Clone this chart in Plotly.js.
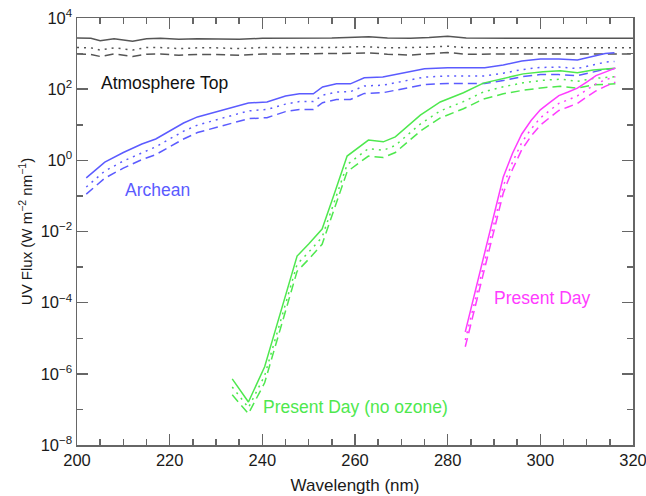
<!DOCTYPE html>
<html>
<head>
<meta charset="utf-8">
<script src="https://cdn.plot.ly/plotly-3.0.1.min.js"></script>
<style>html,body{margin:0;padding:0;background:#fff;}#chart{width:646px;height:496px;}</style>
</head>
<body>
<div id="chart"></div>
<script>
// Atmosphere top (W m^-2 nm^-1)
const wlTop = [200,203,205,208,212,215,218,222,226,230,235,240,245,250,255,260,263,267,272,276,280,284,290,300,310,320];
const topSolid  = [2750,2690,2290,2630,2240,2630,2690,2510,2630,2570,2510,2690,2690,2630,2750,2880,2950,2750,2690,2820,3090,2750,2690,2690,2690,2690];
const topDotted = [1480,1450,1260,1450,1260,1480,1480,1380,1450,1450,1380,1480,1480,1450,1480,1550,1550,1450,1450,1510,1620,1450,1450,1450,1450,1450];
const topDashed = [977,950,830,977,830,960,977,900,950,950,900,977,977,977,1000,1020,1047,960,910,977,1070,960,977,977,977,977];

// Archean
const wlArch = [202,206,210,214,217,220,223,226,230,234,237,241,245,248,251,253,256,259,262,266,270,275,280,288,292,296,300,304,308,311,314,316];
const archSolid  = [0.32,0.89,1.66,2.88,3.98,6.6,11.2,16.6,22.9,31.6,40.7,43.7,64.6,74.1,74.1,115,141,141,209,219,282,372,398,398,479,617,708,708,661,794,1000,1047];
const archDotted = [0.178,0.5,0.955,1.66,2.4,3.98,6.6,9.77,13.8,19.1,24.5,26.9,38,44.7,44.7,67.6,83.2,85.1,123,129,166,219,234,234,282,355,407,417,380,457,575,603];
const archDashed = [0.112,0.316,0.603,1.05,1.45,2.4,3.98,6.03,8.32,11.5,14.8,15.8,23.4,26.9,26.9,41.7,51.3,51.3,75.9,79.4,102,135,145,145,174,224,257,257,240,288,363,380];

// Present Day (no ozone)
const wlNoOz = [233.5,237,240.5,242.8,245.2,247.5,250,252.9,255.5,258.3,262.9,266.1,268.7,271.5,274.1,278.4,283.4,287.7,292,296.3,300.6,304.3,308,311.4,316.2];
const noOzSolid  = [7.24e-7,1.62e-7,1.58e-6,1.74e-5,1.91e-4,2.04e-3,4.47e-3,1.17e-2,0.112,1.32,3.72,3.31,4.57,9.33,18.6,43.7,79.4,148,204,269,309,331,288,347,389];
const noOzDotted = [4.27e-7,1.12e-7,8.91e-7,1.0e-5,1.12e-4,1.2e-3,2.63e-3,6.92e-3,6.61e-2,0.759,2.14,1.91,2.63,5.25,10.5,24.5,44.7,83.2,117,151,178,191,166,200,224];
const noOzDashed = [2.57e-7,7.59e-8,5.62e-7,6.31e-6,7.08e-5,7.59e-4,1.66e-3,4.37e-3,4.17e-2,0.479,1.32,1.2,1.66,3.31,6.61,15.5,28.2,52.5,74.1,93.3,110,120,107,132,141];

// Present Day
const wlPD = [283.8,286,288,290,292,294,296,298,300,302,304,306,308,310,312,314,316.2];
const pdSolid  = [1.51e-5,2.24e-4,2.63e-3,3.16e-2,0.339,1.58,5.5,13.2,26.3,41.7,66.1,83.2,107,158,240,302,389];
const pdDotted = [8.91e-6,1.26e-4,1.48e-3,1.78e-2,0.191,0.891,3.16,7.59,15.5,25.1,39.8,50.1,64.6,95.5,141,182,224];
const pdDashed = [5.75e-6,7.94e-5,9.33e-4,1.12e-2,0.12,0.562,2.0,4.79,9.77,15.8,25.1,31.6,39.8,60.3,89.1,120,158];

const yTickVals = [1e-8,1e-6,1e-4,1e-2,1,1e2,1e4];
const yTickText = ['10<sup>−8</sup>','10<sup>−6</sup>','10<sup>−4</sup>','10<sup>−2</sup>','10<sup>0</sup>','10<sup>2</sup>','10<sup>4</sup>'];
const yMinorVals = [1e-7,1e-5,1e-3,1e-1,1e1,1e3];
const xTickVals = [200,220,240,260,280,300,320];

const GRAY = '#555555', BLUE = '#5b5bff', GREEN = '#4ee84e', MAG = '#ff3cff';
const DOT = '2px,5px', DASH = '9px,5px';

function tr(x, y, color, dash) {
  return {x: x, y: y, type: 'scatter', mode: 'lines', hoverinfo: 'skip',
          line: {color: color, width: 1.5, dash: dash}};
}

const data = [
  tr(wlTop, topSolid, GRAY, 'solid'), tr(wlTop, topDotted, GRAY, DOT), tr(wlTop, topDashed, GRAY, DASH),
  tr(wlArch, archSolid, BLUE, 'solid'), tr(wlArch, archDotted, BLUE, DOT), tr(wlArch, archDashed, BLUE, DASH),
  tr(wlNoOz, noOzSolid, GREEN, 'solid'), tr(wlNoOz, noOzDotted, GREEN, DOT), tr(wlNoOz, noOzDashed, GREEN, DASH),
  tr(wlPD, pdSolid, MAG, 'solid'), tr(wlPD, pdDotted, MAG, DOT), tr(wlPD, pdDashed, MAG, DASH)
];

const FONT = 'Liberation Sans, Arial, sans-serif';
const AX = '#666666';
const TXT = '#1a1a1a';

const layout = {
  width: 646, height: 496,
  margin: {l: 77, r: 13, t: 18, b: 51},
  paper_bgcolor: '#ffffff', plot_bgcolor: '#ffffff',
  showlegend: false,
  font: {family: FONT, color: TXT, size: 16},
  xaxis: {
    range: [200, 320], tickmode: 'array', tickvals: xTickVals,
    ticks: 'inside', ticklen: 11, tickwidth: 1.5, tickcolor: AX,
    showline: true, linecolor: AX, linewidth: 1.5, mirror: 'allticks',
    showgrid: false, zeroline: false, automargin: false, ticklabeloverflow: 'allow',
    tickfont: {size: 16.5, family: FONT, color: TXT},
    minor: {dtick: 5, tick0: 200, ticks: 'inside', ticklen: 6, tickwidth: 1.5, tickcolor: AX, showgrid: false},
    title: {text: 'Wavelength (nm)', font: {size: 17, family: FONT, color: TXT}, standoff: 11}
  },
  yaxis: {
    type: 'log', range: [-8, 4], tickmode: 'array', tickvals: yTickVals, ticktext: yTickText,
    ticks: 'inside', ticklen: 11, tickwidth: 1.5, tickcolor: AX,
    showline: true, linecolor: AX, linewidth: 1.5, mirror: 'allticks',
    showgrid: false, zeroline: false, automargin: false, ticklabeloverflow: 'allow',
    tickfont: {size: 16.5, family: FONT, color: TXT},
    minor: {tickvals: yMinorVals, ticks: 'inside', ticklen: 6, tickwidth: 1.5, tickcolor: AX, showgrid: false},
    title: {text: 'UV Flux (W m<sup>−2</sup> nm<sup>−1</sup>)', font: {size: 15, family: FONT, color: TXT}, standoff: 4}
  },
  annotations: [
    {x: 0.158, y: 0.848, xref: 'paper', yref: 'paper', text: 'Atmosphere Top', showarrow: false,
     font: {size: 17.5, family: FONT, color: '#111'}, xanchor: 'center', yanchor: 'middle'},
    {x: 0.144, y: 0.597, xref: 'paper', yref: 'paper', text: 'Archean', showarrow: false,
     font: {size: 17.5, family: FONT, color: BLUE}, xanchor: 'center', yanchor: 'middle'},
    {x: 0.5, y: 0.089, xref: 'paper', yref: 'paper', text: 'Present Day (no ozone)', showarrow: false,
     font: {size: 17.5, family: FONT, color: GREEN}, xanchor: 'center', yanchor: 'middle'},
    {x: 0.838, y: 0.344, xref: 'paper', yref: 'paper', text: 'Present Day', showarrow: false,
     font: {size: 17.5, family: FONT, color: MAG}, xanchor: 'center', yanchor: 'middle'}
  ]
};

Plotly.newPlot('chart', data, layout, {displayModeBar: false, staticPlot: true});
</script>
</body>
</html>
